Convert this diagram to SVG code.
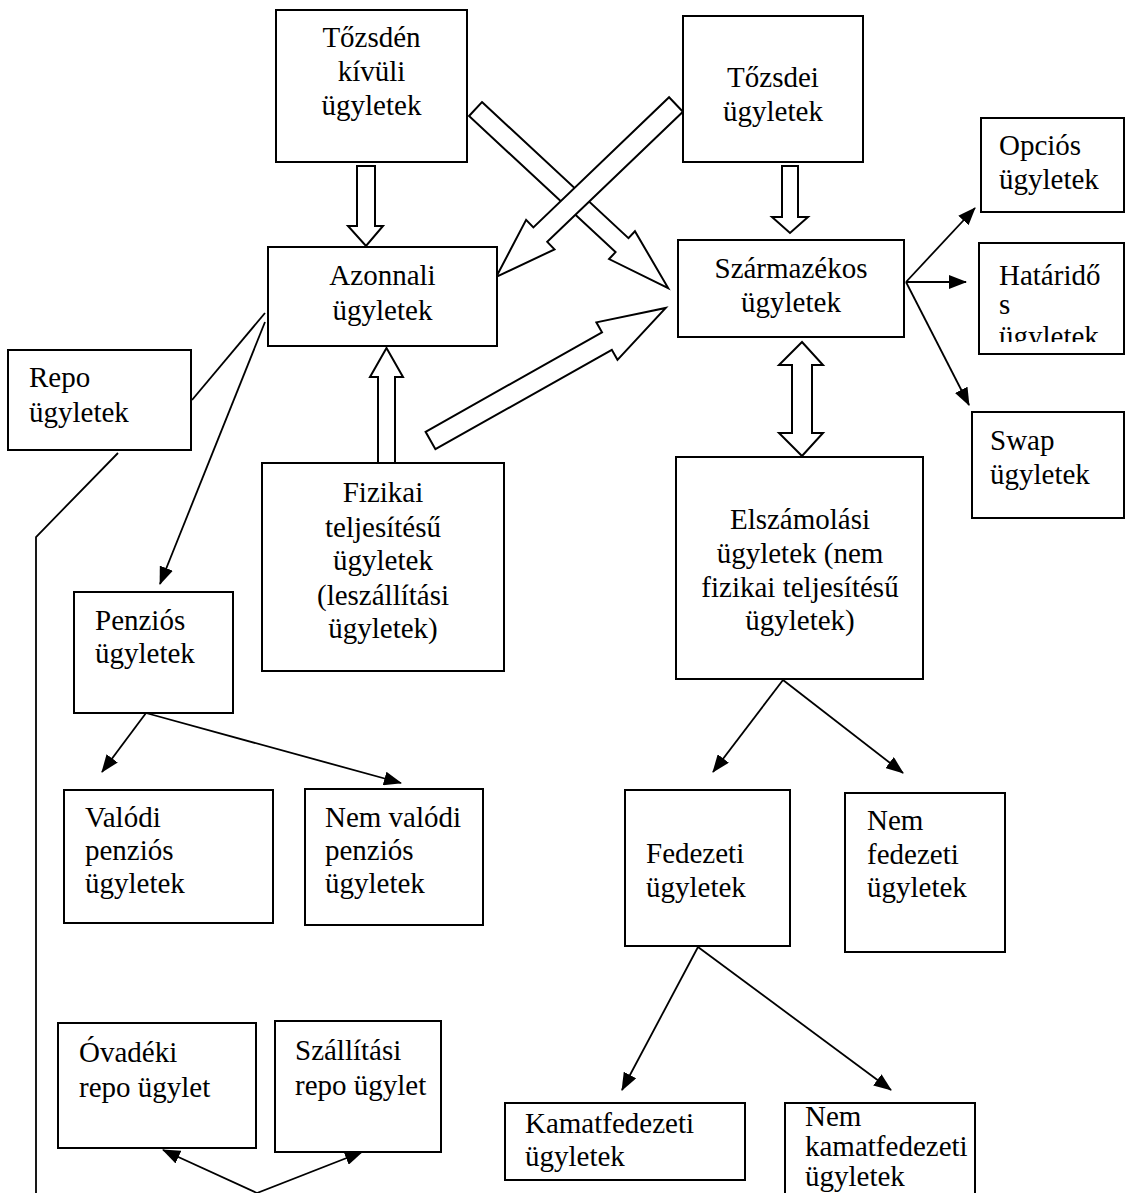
<svg xmlns="http://www.w3.org/2000/svg" width="1126" height="1193" viewBox="0 0 1126 1193">
<style>
.box{fill:#fff;stroke:#000;stroke-width:2}
.t{font-family:"Liberation Serif","Times New Roman",serif;font-size:29px;fill:#000}
.c{text-anchor:middle}
.ln{fill:none;stroke:#000;stroke-width:1.8}
.blk{fill:#fff;stroke:#000;stroke-width:2;stroke-linejoin:miter}
</style>
<defs>
<marker id="ah" viewBox="0 0 18 14" refX="17" refY="7" markerWidth="18" markerHeight="14" markerUnits="userSpaceOnUse" orient="auto">
<path d="M0,0 L18,7 L0,14 z" fill="#000"/>
</marker>
<clipPath id="clipHat"><rect x="979" y="243" width="147" height="99"/></clipPath>
</defs>
<rect width="1126" height="1193" fill="#fff"/>

<g id="connectors">
<line class="ln" x1="265" y1="313" x2="192" y2="400"/>
<polyline class="ln" points="118,453 36,537 36,1193"/>
<line class="ln" x1="265" y1="322" x2="160" y2="584" marker-end="url(#ah)"/>
<line class="ln" x1="146" y1="713" x2="102" y2="772" marker-end="url(#ah)"/>
<line class="ln" x1="146" y1="713" x2="401" y2="783" marker-end="url(#ah)"/>
<line class="ln" x1="906" y1="282" x2="975" y2="208" marker-end="url(#ah)"/>
<line class="ln" x1="906" y1="282" x2="966" y2="282" marker-end="url(#ah)"/>
<line class="ln" x1="906" y1="282" x2="969" y2="405" marker-end="url(#ah)"/>
<line class="ln" x1="783" y1="680" x2="713" y2="772" marker-end="url(#ah)"/>
<line class="ln" x1="783" y1="680" x2="903" y2="773" marker-end="url(#ah)"/>
<line class="ln" x1="698" y1="947" x2="622" y2="1090" marker-end="url(#ah)"/>
<line class="ln" x1="698" y1="947" x2="891" y2="1090" marker-end="url(#ah)"/>
<line class="ln" x1="257" y1="1193" x2="163" y2="1150" marker-end="url(#ah)"/>
<line class="ln" x1="257" y1="1193" x2="362" y2="1152" marker-end="url(#ah)"/>
<!-- block arrows -->
<polygon class="blk" points="357,166 375,166 375,226 383,226 366,246 348,226 357,226"/>
<polygon class="blk" points="782,166 798,166 798,217 808,217 790,233 772,217 782,217"/>
<polygon class="blk" points="378,463 378,377 370,377 386.5,348 403,377 395,377 395,463"/>
<polygon class="blk" points="802,342 823,365 812,365 812,433 823,433 802,456 779,433 792,433 792,365 779,365"/>
<polygon class="blk" transform="translate(475.5,109) rotate(42.9)" points="0,-9.5 200,-9.5 200,-19 263,0 200,19 200,9.5 0,9.5"/>
<polygon class="blk" transform="translate(676,104.5) rotate(136.2)" points="0,-10 188,-10 188,-20.5 249,0 188,20.5 188,10 0,10"/>
<polygon class="blk" transform="translate(430.5,440.5) rotate(-29.4)" points="0,-10 202.5,-10 202.5,-21.5 270,0 202.5,21.5 202.5,10 0,10"/>
</g>

<g id="n-tozsden-kivuli">
<rect class="box" x="276" y="10" width="191" height="152"/>
<text class="t c" x="371.5" y="47">Tőzsdén</text>
<text class="t c" x="371.5" y="81">kívüli</text>
<text class="t c" x="371.5" y="115">ügyletek</text>
</g>
<g id="n-tozsdei">
<rect class="box" x="683" y="16" width="180" height="146"/>
<text class="t c" x="773" y="87">Tőzsdei</text>
<text class="t c" x="773" y="121">ügyletek</text>
</g>
<g id="n-azonnali">
<rect class="box" x="268" y="247" width="229" height="99"/>
<text class="t c" x="382.5" y="285">Azonnali</text>
<text class="t c" x="382.5" y="320">ügyletek</text>
</g>
<g id="n-szarmazekos">
<rect class="box" x="678" y="240" width="226" height="97"/>
<text class="t c" x="791" y="278">Származékos</text>
<text class="t c" x="791" y="312">ügyletek</text>
</g>
<g id="n-opcios">
<rect class="box" x="981" y="118" width="143" height="94"/>
<text class="t" x="999" y="155">Opciós</text>
<text class="t" x="999" y="189">ügyletek</text>
</g>
<g id="n-hataridos">
<rect class="box" x="979" y="243" width="145" height="111"/>
<g clip-path="url(#clipHat)">
<text class="t" x="999" y="285">Határidő</text>
<text class="t" x="999" y="314">s</text>
<text class="t" x="999" y="346">ügyletek</text>
</g>
</g>
<g id="n-swap">
<rect class="box" x="972" y="412" width="152" height="106"/>
<text class="t" x="990" y="450">Swap</text>
<text class="t" x="990" y="484">ügyletek</text>
</g>
<g id="n-repo">
<rect class="box" x="8" y="350" width="183" height="100"/>
<text class="t" x="29" y="387">Repo</text>
<text class="t" x="29" y="422">ügyletek</text>
</g>
<g id="n-fizikai">
<rect class="box" x="262" y="463" width="242" height="208"/>
<text class="t c" x="383" y="502">Fizikai</text>
<text class="t c" x="383" y="537">teljesítésű</text>
<text class="t c" x="383" y="570">ügyletek</text>
<text class="t c" x="383" y="605">(leszállítási</text>
<text class="t c" x="383" y="638">ügyletek)</text>
</g>
<g id="n-elszamolasi">
<rect class="box" x="676" y="457" width="247" height="222"/>
<text class="t c" x="800" y="529">Elszámolási</text>
<text class="t c" x="800" y="563">ügyletek (nem</text>
<text class="t c" x="800" y="597">fizikai teljesítésű</text>
<text class="t c" x="800" y="630">ügyletek)</text>
</g>
<g id="n-penzios">
<rect class="box" x="74" y="592" width="159" height="121"/>
<text class="t" x="95" y="630">Penziós</text>
<text class="t" x="95" y="663">ügyletek</text>
</g>
<g id="n-valodi">
<rect class="box" x="64" y="790" width="209" height="133"/>
<text class="t" x="85" y="827">Valódi</text>
<text class="t" x="85" y="860">penziós</text>
<text class="t" x="85" y="893">ügyletek</text>
</g>
<g id="n-nem-valodi">
<rect class="box" x="305" y="789" width="178" height="136"/>
<text class="t" x="325" y="827">Nem valódi</text>
<text class="t" x="325" y="860">penziós</text>
<text class="t" x="325" y="893">ügyletek</text>
</g>
<g id="n-fedezeti">
<rect class="box" x="625" y="790" width="165" height="156"/>
<text class="t" x="646" y="863">Fedezeti</text>
<text class="t" x="646" y="897">ügyletek</text>
</g>
<g id="n-nem-fedezeti">
<rect class="box" x="845" y="793" width="160" height="159"/>
<text class="t" x="867" y="830">Nem</text>
<text class="t" x="867" y="864">fedezeti</text>
<text class="t" x="867" y="897">ügyletek</text>
</g>
<g id="n-ovadeki">
<rect class="box" x="58" y="1023" width="198" height="125"/>
<text class="t" x="79" y="1062">Óvadéki</text>
<text class="t" x="79" y="1097">repo ügylet</text>
</g>
<g id="n-szallitasi">
<rect class="box" x="275" y="1021" width="166" height="131"/>
<text class="t" x="295" y="1060">Szállítási</text>
<text class="t" x="295" y="1095">repo ügylet</text>
</g>
<g id="n-kamatfedezeti">
<rect class="box" x="505" y="1103" width="240" height="77"/>
<text class="t" x="525" y="1133">Kamatfedezeti</text>
<text class="t" x="525" y="1166">ügyletek</text>
</g>
<g id="n-nem-kamatfedezeti">
<rect class="box" x="785" y="1103" width="190" height="100"/>
<text class="t" x="805" y="1126">Nem</text>
<text class="t" x="805" y="1156">kamatfedezeti</text>
<text class="t" x="805" y="1186">ügyletek</text>
</g>
</svg>
